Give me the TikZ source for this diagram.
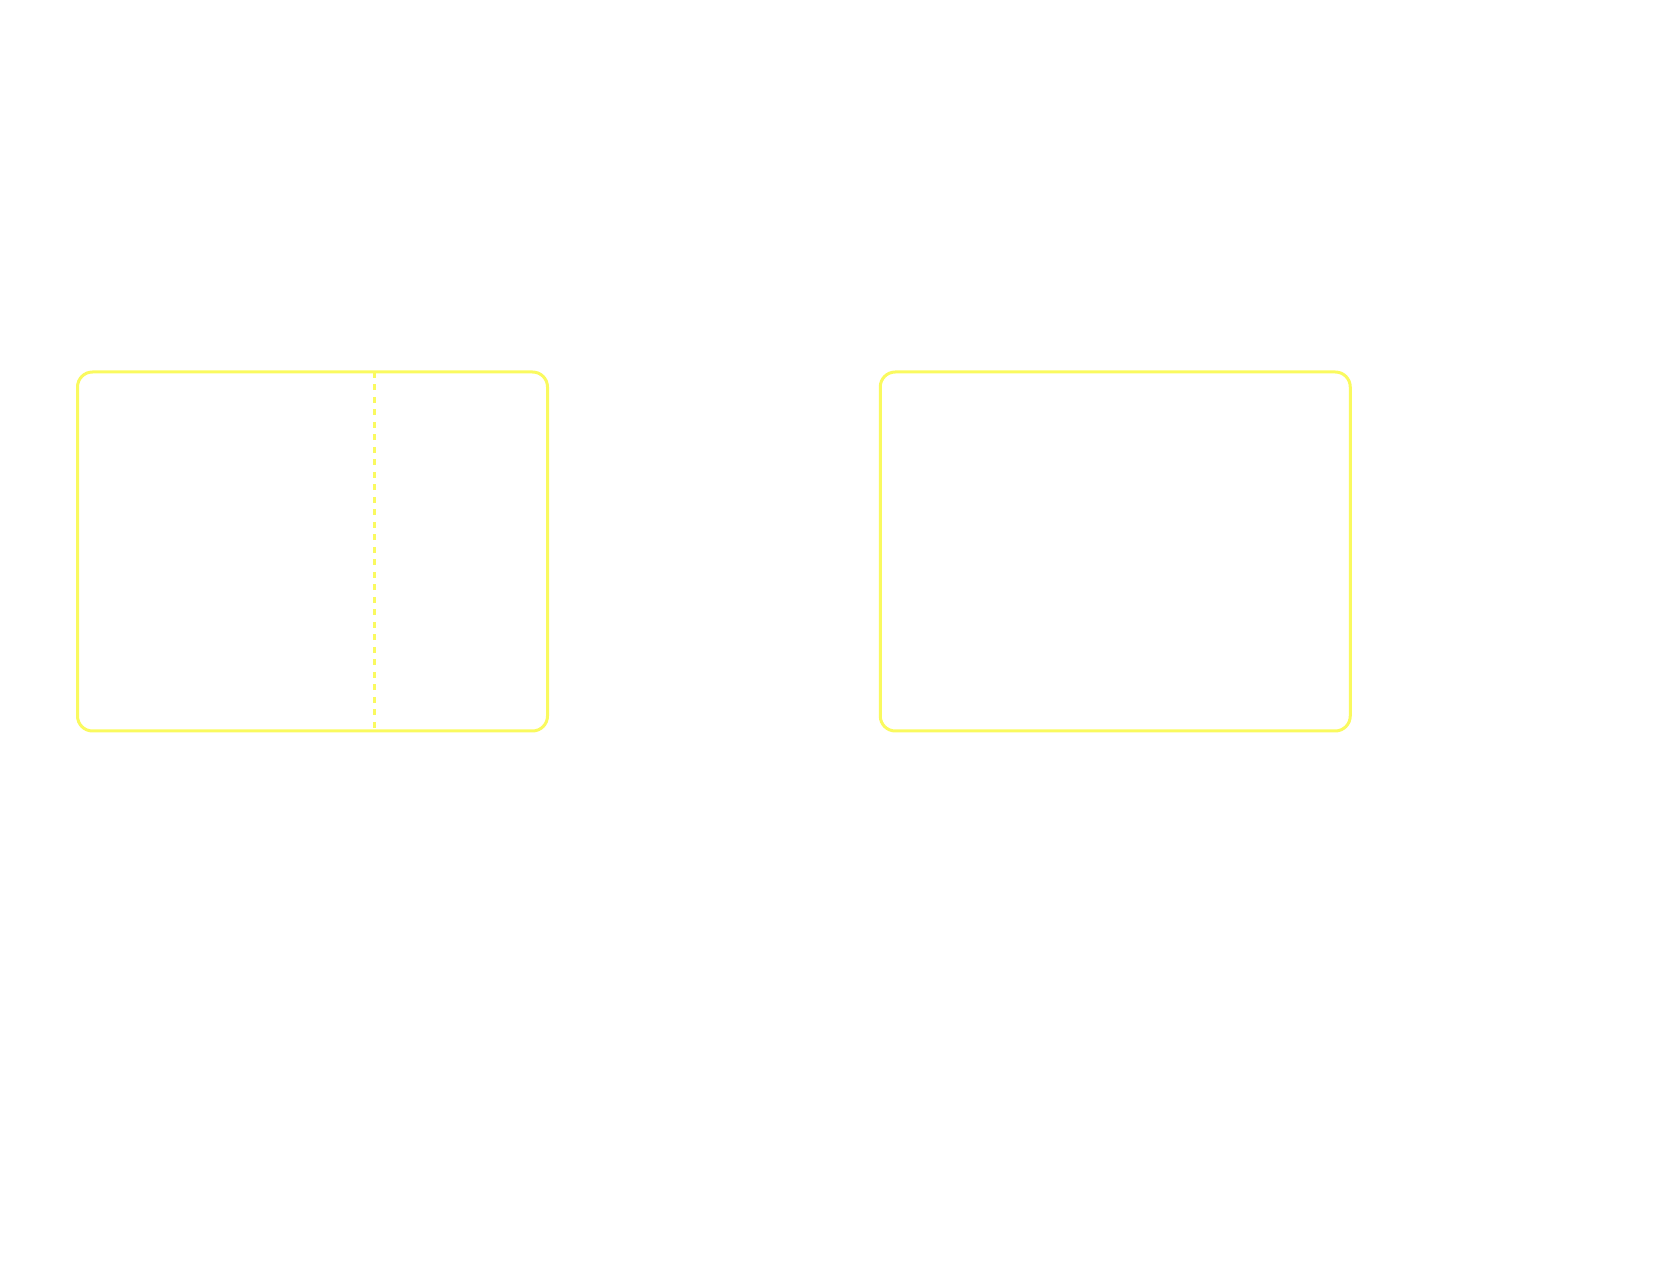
\documentclass[tikz,border=0pt]{standalone}
\begin{document}
\begin{tikzpicture}[x=1pt,y=1pt,
  yel/.style={draw={rgb,255:red,250;green,250;blue,95}, line width=3pt},
  panel/.style={yel, rectangle, rounded corners=15pt, inner sep=0pt,
    minimum width=470pt, minimum height=359pt},
  divider/.style={yel, dash pattern=on 6pt off 6.5pt}]
\useasboundingbox (0,0) rectangle (1667,1286);
\node[panel] (left) at (312.5,734.5) {};
\node[panel] (right) at (1115.25,734.5) {};
\coordinate (dtop) at (374,914);
\coordinate (dbot) at (374,555);
\draw[divider] (dtop) -- (dbot);
\end{tikzpicture}
\end{document}
